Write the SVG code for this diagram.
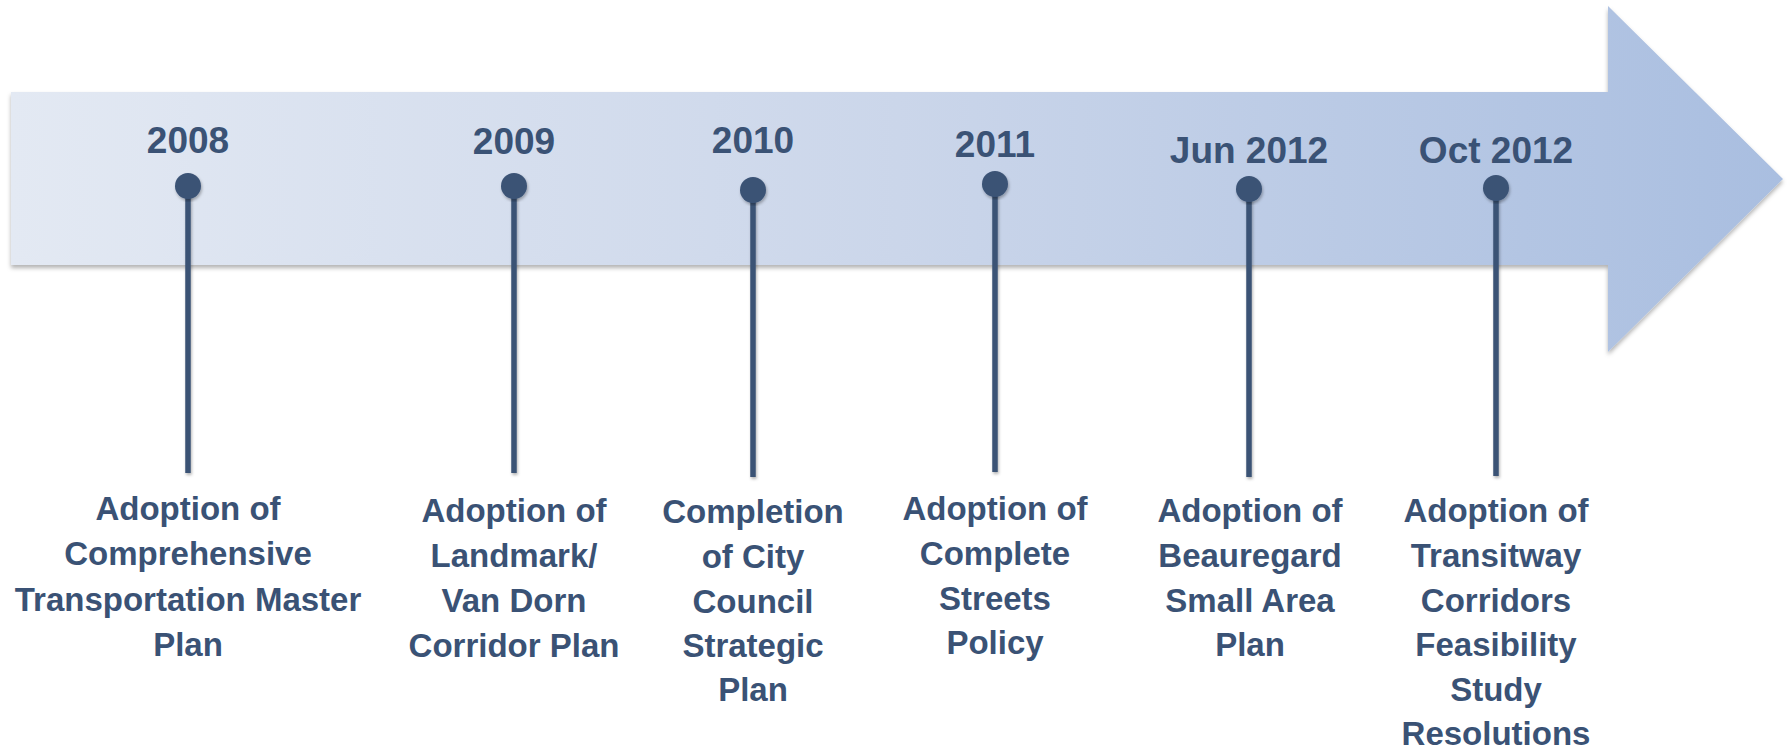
<svg xmlns="http://www.w3.org/2000/svg" width="1787" height="750" viewBox="0 0 1787 750">
  <defs>
    <linearGradient id="arrowGrad" x1="11" y1="0" x2="1784" y2="0" gradientUnits="userSpaceOnUse">
      <stop offset="0" stop-color="#e3e9f3"/>
      <stop offset="0.5" stop-color="#cbd6ea"/>
      <stop offset="1" stop-color="#a9bee0"/>
    </linearGradient>
    <filter id="arrowShadow" x="-5%" y="-10%" width="110%" height="125%">
      <feDropShadow dx="0" dy="3" stdDeviation="2.2" flood-color="#000" flood-opacity="0.3"/>
    </filter>
    <filter id="pinShadow" x="-50%" y="-10%" width="200%" height="120%">
      <feDropShadow dx="1" dy="2" stdDeviation="1.5" flood-color="#000" flood-opacity="0.3"/>
    </filter>
  </defs>
  <style>
    .year { font-family: "Liberation Sans", Arial, sans-serif; font-weight: bold; font-size: 37px; fill: #3a5275; text-anchor: middle; }
    .desc { font-family: "Liberation Sans", Arial, sans-serif; font-weight: bold; font-size: 33px; fill: #3a5275; text-anchor: middle; }
    .stem { stroke: #3a5275; stroke-width: 5.5; fill: none; }
    .dot { fill: #3a5275; }
  </style>
  <rect width="1787" height="750" fill="#ffffff"/>
  <g id="timeline-arrow">
    <polygon points="11,92 1608,92 1608,6 1783,179 1608,352 1608,265 11,265" fill="url(#arrowGrad)" filter="url(#arrowShadow)"/>
  </g>
  <g id="connectors">
    <g filter="url(#pinShadow)">
      <line class="stem" x1="188" y1="186" x2="188" y2="473"/>
      <line class="stem" x1="514" y1="186" x2="514" y2="473"/>
      <line class="stem" x1="753" y1="190" x2="753" y2="477"/>
      <line class="stem" x1="995" y1="184" x2="995" y2="472"/>
      <line class="stem" x1="1249" y1="189" x2="1249" y2="477"/>
      <line class="stem" x1="1496" y1="188" x2="1496" y2="476"/>
    </g>
  </g>
  <g id="node-2008">
    <circle class="dot" cx="188" cy="186" r="13" filter="url(#pinShadow)"/>
    <text class="year" x="188" y="153">2008</text>
    <text class="desc" x="188"><tspan x="188" y="520">Adoption of</tspan><tspan x="188" y="565">Comprehensive</tspan><tspan x="188" y="611">Transportation Master</tspan><tspan x="188" y="656">Plan</tspan></text>
  </g>
  <g id="node-2009">
    <circle class="dot" cx="514" cy="186" r="13" filter="url(#pinShadow)"/>
    <text class="year" x="514" y="154">2009</text>
    <text class="desc" x="514"><tspan x="514" y="522">Adoption of</tspan><tspan x="514" y="567">Landmark/</tspan><tspan x="514" y="612">Van Dorn</tspan><tspan x="514" y="657">Corridor Plan</tspan></text>
  </g>
  <g id="node-2010">
    <circle class="dot" cx="753" cy="190" r="13" filter="url(#pinShadow)"/>
    <text class="year" x="753" y="153">2010</text>
    <text class="desc" x="753"><tspan x="753" y="523">Completion</tspan><tspan x="753" y="568">of City</tspan><tspan x="753" y="613">Council</tspan><tspan x="753" y="657">Strategic</tspan><tspan x="753" y="701">Plan</tspan></text>
  </g>
  <g id="node-2011">
    <circle class="dot" cx="995" cy="184" r="13" filter="url(#pinShadow)"/>
    <text class="year" x="995" y="157">2011</text>
    <text class="desc" x="995"><tspan x="995" y="520">Adoption of</tspan><tspan x="995" y="565">Complete</tspan><tspan x="995" y="610">Streets</tspan><tspan x="995" y="654">Policy</tspan></text>
  </g>
  <g id="node-jun-2012">
    <circle class="dot" cx="1249" cy="189" r="13" filter="url(#pinShadow)"/>
    <text class="year" x="1249" y="163">Jun 2012</text>
    <text class="desc" x="1250"><tspan x="1250" y="522">Adoption of</tspan><tspan x="1250" y="567">Beauregard</tspan><tspan x="1250" y="612">Small Area</tspan><tspan x="1250" y="656">Plan</tspan></text>
  </g>
  <g id="node-oct-2012">
    <circle class="dot" cx="1496" cy="188" r="13" filter="url(#pinShadow)"/>
    <text class="year" x="1496" y="163">Oct 2012</text>
    <text class="desc" x="1496"><tspan x="1496" y="522">Adoption of</tspan><tspan x="1496" y="567">Transitway</tspan><tspan x="1496" y="612">Corridors</tspan><tspan x="1496" y="656">Feasibility</tspan><tspan x="1496" y="701">Study</tspan><tspan x="1496" y="745">Resolutions</tspan></text>
  </g>
</svg>
